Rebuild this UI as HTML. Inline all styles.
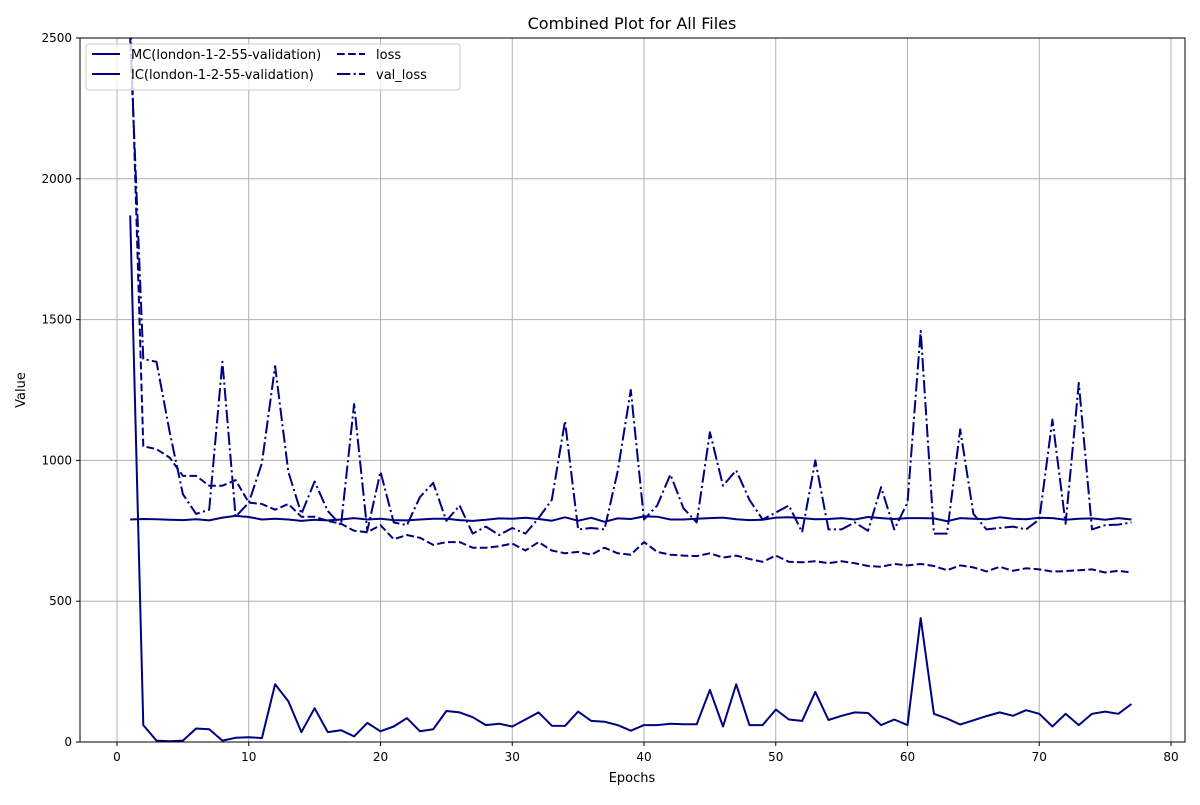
<!DOCTYPE html>
<html><head><meta charset="utf-8"><style>
body{margin:0;background:#fff;font-family:"Liberation Sans","DejaVu Sans",sans-serif}
svg text{font-family:"DejaVu Sans","Liberation Sans",sans-serif;fill:#000}
</style></head><body>
<svg id="chart" width="1200" height="800" xmlns="http://www.w3.org/2000/svg">
<defs><clipPath id="pc"><rect x="80" y="38" width="1105" height="704"/></clipPath></defs>
<rect width="1200" height="800" fill="#fff"/>
<g id="grid"></g>
<g id="series" clip-path="url(#pc)"></g>
<rect x="80" y="38" width="1105" height="704" fill="none" stroke="#000" stroke-width="1"/>
<g id="axes"></g>
<text x="632" y="29" font-size="16" text-anchor="middle">Combined Plot for All Files</text>
<text x="632" y="782" font-size="13" text-anchor="middle">Epochs</text>
<text x="25" y="390" font-size="13" text-anchor="middle" transform="rotate(-90 25 390)">Value</text>
<g id="legend">
<rect x="86" y="44" width="374" height="46" rx="3" fill="#fff" fill-opacity="0.8" stroke="#ccc"/>
</g>
</svg>
<script>
const epochs=[];for(let i=1;i<=77;i++)epochs.push(i);
const mcValues=[790,792,791,789,788,791,787,797,803,799,790,793,790,785,789,787,790,795,790,793,788,787,790,793,793,788,785,789,794,793,796,792,786,798,786,796,782,794,792,801,800,790,790,793,795,797,791,788,789,797,798,795,791,792,795,790,799,795,792,795,795,794,784,795,793,791,798,793,791,796,795,789,793,794,789,795,790];
const icValues=[1870,60,5,3,5,48,45,5,15,17,14,205,145,35,120,35,42,20,68,38,55,85,38,45,110,105,88,60,65,55,80,105,58,57,108,75,72,60,40,60,60,65,63,63,185,55,205,60,60,115,80,75,178,78,93,105,103,60,80,60,440,100,83,62,77,92,105,93,113,100,55,100,60,100,108,100,135];
const lossValues=[2600,1050,1040,1010,945,945,910,910,930,850,845,825,845,800,800,785,775,750,745,770,720,735,725,700,710,710,690,690,695,705,680,710,680,670,675,665,690,670,665,710,675,665,662,660,670,655,662,650,640,662,640,638,642,635,642,635,625,622,632,627,632,625,610,627,620,606,622,608,617,613,605,607,610,613,602,608,602];
const valLossValues=[2500,1360,1350,1100,880,810,825,1350,800,850,990,1335,960,810,925,820,770,1200,750,960,780,770,870,920,785,840,740,765,735,760,740,795,860,1140,755,760,755,960,1250,790,840,950,830,780,1100,910,965,860,790,815,840,745,1000,755,755,780,750,905,755,850,1460,740,740,1110,810,755,760,765,755,790,1145,775,1275,755,770,772,780];
const xTicks=[0,10,20,30,40,50,60,70,80];
const yTicks=[0,500,1000,1500,2000,2500];
const X=v=>117+(v)*(1171-117)/80;
const Y=v=>742-v*(742-38)/2500;
const NS='http://www.w3.org/2000/svg';
function mk(t,a,p){const e=document.createElementNS(NS,t);for(const k in a)e.setAttribute(k,a[k]);p.appendChild(e);return e;}
const grid=document.getElementById('grid'),axes=document.getElementById('axes'),ser=document.getElementById('series');
xTicks.forEach(t=>{const x=X(t);
 const g=mk('line',{x1:x,x2:x,y1:38,y2:742,stroke:'#b0b0b0','stroke-width':1},grid);
 
 
 mk('line',{x1:x,x2:x,y1:742,y2:746,stroke:'#000'},axes);
 const l=mk('text',{x:x,y:761,'font-size':12,'text-anchor':'middle'},axes);l.textContent=t;
 
 
});
yTicks.forEach(t=>{const y=Y(t);
 const g=mk('line',{x1:80,x2:1185,y1:y,y2:y,stroke:'#b0b0b0','stroke-width':1},grid);
 
 
 mk('line',{x1:76,x2:80,y1:y,y2:y,stroke:'#000'},axes);
 const l=mk('text',{x:72,y:y+4,'font-size':12,'text-anchor':'end'},axes);l.textContent=t;
 
 
});
const C='#000080';
const styles={solid:'',dash:'7.7 3.3',dashdot:'13.3 3.3 2.1 3.3'};
function line(vals,dash,name){
 const d=vals.map((v,i)=>(i?'L':'M')+X(epochs[i]).toFixed(1)+' '+Y(v).toFixed(1)).join(' ');
 const p=mk('path',{d:d,fill:'none',stroke:C,'stroke-width':2,'stroke-linejoin':'round'},ser);
 if(dash)p.setAttribute('stroke-dasharray',dash);
 
 
}
line(mcValues,'','mc-line');
line(icValues,'','ic-line');
line(lossValues,styles.dash,'loss-line');
line(valLossValues,styles.dashdot,'val-loss-line');
const lg=document.getElementById('legend');
const items=[['MC(london-1-2-55-validation)','',92,58],['IC(london-1-2-55-validation)','',92,78],['loss',styles.dash,337,58],['val_loss',styles.dashdot,337,78]];
items.forEach(it=>{
 const g=mk('g',{},lg);
 
 
 const l=mk('line',{x1:it[2],x2:it[2]+28,y1:it[3]-4,y2:it[3]-4,stroke:C,'stroke-width':2},g);
 if(it[1])l.setAttribute('stroke-dasharray',it[1]);
 const t=mk('text',{x:it[2]+39,y:it[3]+1,'font-size':13},g);t.textContent=it[0];
});
</script>
</body></html>
